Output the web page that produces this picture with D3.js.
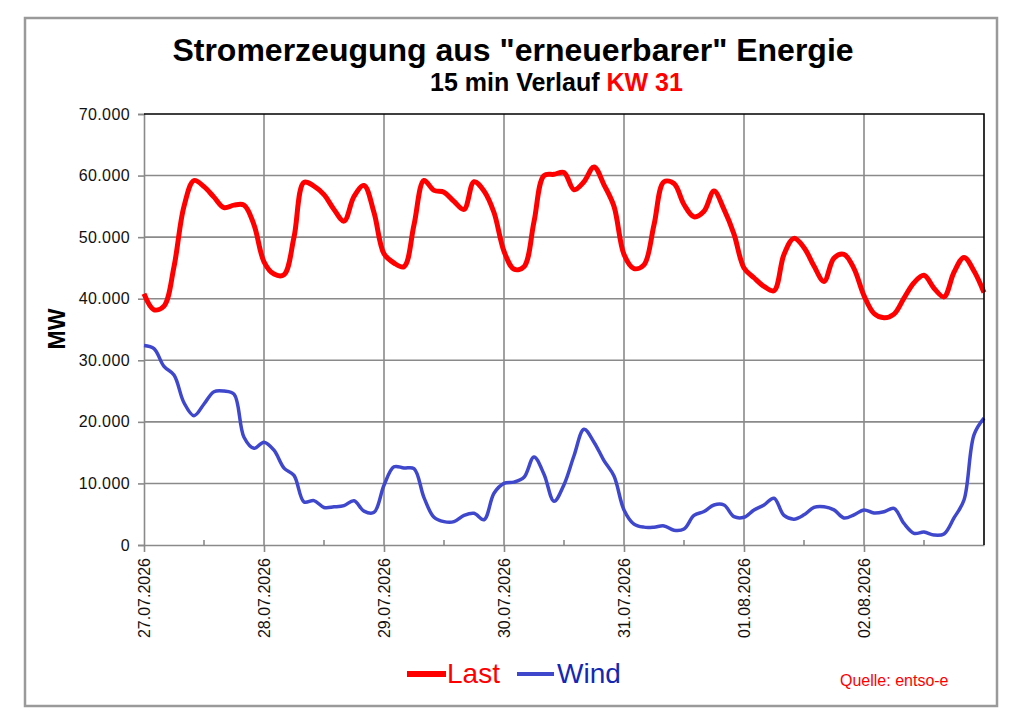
<!DOCTYPE html>
<html>
<head>
<meta charset="utf-8">
<script src="https://cdn.jsdelivr.net/npm/d3@7"></script>
<style>
  body { margin: 0; background: #fff; }
  svg { display: block; }
</style>
</head>
<body>
<div id="chart"></div>
<script>
const WIDTH = 1024;
const HEIGHT = 724;

const START = new Date(2026, 6, 27, 0, 0);
const END = new Date(2026, 7, 3, 0, 0);
const STEP_HOURS = 2;

const dayTicks = ["27.07.2026", "28.07.2026", "29.07.2026", "30.07.2026",
  "31.07.2026", "01.08.2026", "02.08.2026"];
const yTicks = [0, 10000, 20000, 30000, 40000, 50000, 60000, 70000];

// Last in MW
const last = [
  40800, 38200, 38800, 45200, 55000, 59200, 58200, 56500, 54800, 55200, 55200, 52000,
  46000, 44000, 43900, 50000, 58900, 58300, 56900, 54500, 52600, 56600, 58400, 54000,
  47300, 45800, 45200, 52000, 59200, 57600, 57300, 55800, 54500, 59000, 57500, 54000,
  47700, 44800, 45200, 52500, 60000, 60200, 60500, 57700, 59000, 61400, 58500, 55000,
  47200, 44900, 45500, 52000, 59000, 58700, 55300, 53300, 54200, 57500, 54500, 50500,
  45000, 43400, 42000, 41300, 47200, 49800, 48300, 45300, 42800, 46600, 47200, 44900,
  40500, 37600, 36900, 37500, 40100, 42600, 43800, 41700, 40300, 44300, 46700, 44500,
  41000
];

// Wind in MW
const wind = [
  32400, 31900, 29000, 27600, 23100, 21000, 22900, 24900, 25000, 24500, 17500, 15700,
  16700, 15400, 12500, 11300, 7000, 7200, 6100, 6200, 6400, 7200, 5500, 5300,
  9700, 12700, 12500, 12400, 7700, 4500, 3800, 3800, 4800, 5150, 4100, 8400,
  10000, 10200, 11000, 14300, 11500, 7100, 9800, 14500, 18800, 16700, 13700, 11200,
  5700, 3400, 2900, 2900, 3100, 2400, 2600, 4800, 5450, 6500, 6500, 4600,
  4500, 5700, 6500, 7600, 4800, 4200, 4900, 6100, 6200, 5700, 4400, 4900,
  5700, 5200, 5400, 5950, 3500, 1900, 2100, 1620, 1800, 4400, 7300, 17900,
  20600
];

const seriesNames = ["Last", "Wind"];
const lineColors = ["#ff0000", "#3f48cc"];
const textColors = ["#ff0000", "#1428b4"];

const MARGIN = { left: 144, right: 40, top: 114, bottom: 179 };

const de = d3.formatLocale({ decimal: ",", thousands: ".", grouping: [3], currency: ["", " €"] });
const fmtY = de.format(",.0f");
const parseDay = d3.timeParse("%d.%m.%Y");

const SVG = d3.select("#chart").append("svg")
  .attr("width", WIDTH).attr("height", HEIGHT);

SVG.append("rect").attr("width", WIDTH).attr("height", HEIGHT).attr("fill", "#fff");

// Rahmen
SVG.append("rect")
  .attr("x", 25).attr("y", 18)
  .attr("width", 972).attr("height", 688)
  .attr("fill", "none")
  .attr("stroke", "#9a9a9a")
  .attr("stroke-width", 2.5);

const x = d3.scaleTime()
  .domain([START, END])
  .range([MARGIN.left, WIDTH - MARGIN.right]);

const y = d3.scaleLinear()
  .domain([0, 70000])
  .range([HEIGHT - MARGIN.bottom, MARGIN.top]);

const timeOf = i => d3.timeHour.offset(START, i * STEP_HOURS);

const grid = SVG.append("g").attr("stroke", "#8a8a8a").attr("stroke-width", 1.6);

// horizontale Gitterlinien
grid.selectAll(".hgrid")
  .data(yTicks.filter(v => v > 0 && v < 70000))
  .join("line")
  .attr("x1", x(START)).attr("x2", x(END))
  .attr("y1", d => y(d)).attr("y2", d => y(d));

// vertikale Gitterlinien
grid.selectAll(".vgrid")
  .data(dayTicks.slice(1))
  .join("line")
  .attr("x1", d => x(parseDay(d))).attr("x2", d => x(parseDay(d)))
  .attr("y1", y(0)).attr("y2", y(70000));

// Y-Achse
const yAxis = d3.axisLeft(y)
  .tickValues(yTicks)
  .tickFormat(fmtY)
  .tickSize(6)
  .tickPadding(8);

const gy = SVG.append("g")
  .attr("transform", `translate(${x(START)},0)`)
  .call(yAxis);
gy.select(".domain").attr("stroke", "#8a8a8a").attr("stroke-width", 1.6);
gy.selectAll(".tick line").attr("stroke", "#8a8a8a").attr("stroke-width", 1.6);
gy.selectAll(".tick text")
  .attr("fill", "#111")
  .style("font-family", "Arial, 'Liberation Sans', sans-serif")
  .style("font-size", "16px")
  .style("letter-spacing", "0.4px");

// X-Achse
const xAxis = d3.axisBottom(x)
  .tickValues(dayTicks.map(parseDay))
  .tickFormat(d3.timeFormat("%d.%m.%Y"))
  .tickSize(7)
  .tickSizeOuter(0);

const gx = SVG.append("g")
  .attr("transform", `translate(0,${y(0)})`)
  .call(xAxis);
gx.select(".domain").attr("stroke", "#8a8a8a").attr("stroke-width", 1.6);
gx.selectAll(".tick line").attr("stroke", "#8a8a8a").attr("stroke-width", 1.6);
gx.selectAll(".tick text")
  .attr("fill", "#111")
  .attr("text-anchor", "end")
  .attr("transform", "rotate(-90)")
  .attr("x", -13)
  .attr("y", 0)
  .attr("dy", "0.35em")
  .style("font-family", "Arial, 'Liberation Sans', sans-serif")
  .style("font-size", "16px");

// Hilfsstriche 12 Uhr
gx.selectAll(".minor")
  .data(dayTicks.map(d => d3.timeHour.offset(parseDay(d), 12)))
  .join("line")
  .attr("x1", d => x(d)).attr("x2", d => x(d))
  .attr("y1", 0).attr("y2", -5)
  .attr("stroke", "#8a8a8a").attr("stroke-width", 1.6);

// Linien
const line = d3.line()
  .x((d, i) => x(timeOf(i)))
  .y(d => y(d))
  .curve(d3.curveCatmullRom.alpha(0.5));

SVG.append("path")
  .datum(wind)
  .attr("d", line)
  .attr("fill", "none")
  .attr("stroke", lineColors[1])
  .attr("stroke-width", 3.5)
  .attr("stroke-linejoin", "round");

SVG.append("path")
  .datum(last)
  .attr("d", line)
  .attr("fill", "none")
  .attr("stroke", lineColors[0])
  .attr("stroke-width", 5)
  .attr("stroke-linejoin", "round");

// obere und rechte Begrenzung
SVG.append("path")
  .attr("d", `M${x(START)},${y(70000)}H${x(END)}V${y(0)}`)
  .attr("fill", "none")
  .attr("stroke", "#000")
  .attr("stroke-width", 1.6);

// Titel
SVG.append("text")
  .attr("x", 513).attr("y", 61)
  .attr("text-anchor", "middle")
  .style("font-family", "'Liberation Sans Narrow', 'Arial Narrow', Arial, 'Liberation Sans', sans-serif")
  .style("font-weight", "bold")
  .style("font-size", "32px")
  .text('Stromerzeugung aus "erneuerbarer" Energie');

const sub = SVG.append("text")
  .attr("x", 430).attr("y", 91)
  .style("font-family", "'Liberation Sans Narrow', 'Arial Narrow', Arial, 'Liberation Sans', sans-serif")
  .style("font-weight", "bold")
  .style("font-size", "25px");
sub.append("tspan").attr("fill", "#000").text("15 min Verlauf ");
sub.append("tspan").attr("fill", "#ff0000").text("KW 31");

// Achsenbeschriftung
SVG.append("text")
  .attr("transform", "translate(65,329) rotate(-90)")
  .attr("text-anchor", "middle")
  .style("font-family", "Arial, 'Liberation Sans', sans-serif")
  .style("font-weight", "bold")
  .style("font-size", "23px")
  .text("MW");

// Legende
const legendX = [407, 517];
const legend = SVG.selectAll(".legend")
  .data(seriesNames)
  .join("g")
  .attr("transform", (d, i) => `translate(${legendX[i]},674)`);

legend.append("line")
  .attr("x1", 0).attr("x2", (d, i) => i === 0 ? 39 : 37)
  .attr("y1", 0).attr("y2", 0)
  .attr("stroke", (d, i) => lineColors[i])
  .attr("stroke-width", (d, i) => i === 0 ? 6 : 4);

legend.append("text")
  .attr("x", 40).attr("y", 9)
  .attr("fill", (d, i) => textColors[i])
  .style("font-family", "Arial, 'Liberation Sans', sans-serif")
  .style("font-size", "28px")
  .text(d => d);

SVG.append("text")
  .attr("x", 840).attr("y", 686)
  .attr("fill", "#ff0000")
  .style("font-family", "Arial, 'Liberation Sans', sans-serif")
  .style("font-size", "16px")
  .text("Quelle: entso-e");
</script>
</body>
</html>
